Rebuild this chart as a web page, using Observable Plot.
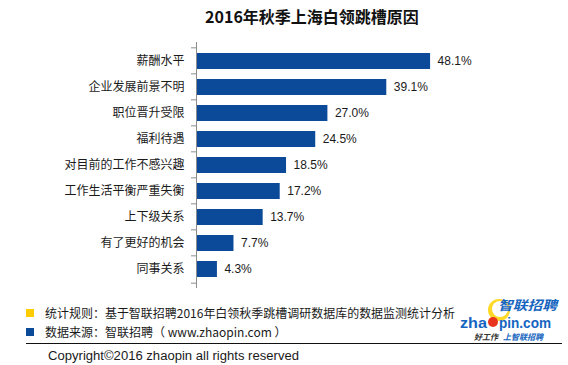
<!DOCTYPE html>
<html>
<head>
<meta charset="utf-8">
<script src="https://cdn.jsdelivr.net/npm/d3@7"></script>
<script src="https://cdn.jsdelivr.net/npm/@observablehq/plot@0.6"></script>
<style>
  html, body { margin: 0; padding: 0; background: #fff; }
  svg { display: block; }
</style>
</head>
<body>
<div id="chart"></div>
<script>
const title = "2016年秋季上海白领跳槽原因";
const categories = ["薪酬水平","企业发展前景不明","职位晋升受限","福利待遇","对目前的工作不感兴趣","工作生活平衡严重失衡","上下级关系","有了更好的机会","同事关系"];
const values = [48.1, 39.1, 27.0, 24.5, 18.5, 17.2, 13.7, 7.7, 4.3];
const footnote1 = "统计规则：基于智联招聘2016年白领秋季跳槽调研数据库的数据监测统计分析";
const footnote2 = "数据来源：智联招聘（ www.zhaopin.com ）";
const copyright = "Copyright©2016 zhaopin all rights reserved";

const data = categories.map((c, i) => ({cat: c, value: values[i]}));

const W = 568, H = 365, mt = 42, mb = 77;
const step = (H - mt - mb) / categories.length;
const cjk = "'Noto Sans CJK SC', 'Noto Sans', sans-serif";
const latin = "'Liberation Sans', Arial, sans-serif";
const axisColor = "#8c8c8c";

const chart = Plot.plot({
  width: W, height: H,
  marginTop: mt, marginBottom: mb, marginLeft: 196, marginRight: 80,
  style: {fontFamily: cjk, background: "#fff"},
  x: {domain: [0, 60], axis: null},
  y: {domain: categories, padding: 0.38, axis: null},
  marks: [
    Plot.barX(data, {x: "value", y: "cat", fill: "#0a4a98"}),
    Plot.text(data, {x: "value", y: "cat", text: d => d.value.toFixed(1) + "%", dx: 7, textAnchor: "start", fontSize: 12, fill: "#1a1a1a", fontFamily: latin}),
    Plot.ruleX([0], {stroke: axisColor}),
    Plot.axisY({tickSize: 5, tickFormat: () => "", dy: -step / 2, stroke: axisColor, label: null}),
    Plot.axisY({ticks: [categories[categories.length - 1]], tickSize: 5, tickFormat: () => "", dy: step / 2, stroke: axisColor, label: null}),
    Plot.axisY({tickSize: 0, tickPadding: 12, fontSize: 12, color: "#1a1a1a", label: null})
  ]
});

document.getElementById("chart").appendChild(chart);

const svg = d3.select(chart);
const overlay = svg.append("g").attr("text-anchor", "start");
// Title
overlay.append("text").text(title)
  .attr("x", 312).attr("y", 23).attr("text-anchor", "middle")
  .attr("font-family", cjk).attr("font-weight", "bold").attr("font-size", 16).attr("fill", "#111");

// Footer legend squares
overlay.append("rect").attr("x", 26).attr("y", 309).attr("width", 8).attr("height", 8).attr("fill", "#ffcc00");
overlay.append("rect").attr("x", 26).attr("y", 328).attr("width", 8).attr("height", 8).attr("fill", "#0a4a98");
overlay.append("text").text(footnote1).attr("x", 45).attr("y", 317.5).attr("text-anchor", "start")
  .attr("font-family", cjk).attr("font-size", 12).attr("fill", "#1a1a1a")
  .attr("textLength", 410).attr("lengthAdjust", "spacingAndGlyphs");
overlay.append("text").text(footnote2).attr("x", 45).attr("y", 336.5).attr("text-anchor", "start")
  .attr("font-family", cjk).attr("font-size", 12).attr("fill", "#1a1a1a");
overlay.append("line").attr("x1", 26).attr("x2", 562).attr("y1", 343.5).attr("y2", 343.5).attr("stroke", "#111").attr("stroke-width", 1);
overlay.append("text").text(copyright).attr("x", 48).attr("y", 359.5).attr("text-anchor", "start")
  .attr("font-family", latin).attr("font-size", 12.5).attr("fill", "#1a1a1a")
  .attr("textLength", 251).attr("lengthAdjust", "spacingAndGlyphs");

// Logo
const logo = overlay.append("g").attr("text-anchor", "start");
logo.append("circle").attr("cx", 499).attr("cy", 310).attr("r", 11).attr("fill", "#ffd200").attr("opacity", 0.85);
logo.append("circle").attr("cx", 500).attr("cy", 309).attr("r", 8).attr("fill", "#fff");
logo.append("text").text("智联招聘").attr("x", 498).attr("y", 310)
  .attr("font-family", cjk).attr("font-weight", "bold").attr("font-style", "italic").attr("font-size", 13)
  .attr("fill", "#1565c0").attr("textLength", 59).attr("lengthAdjust", "spacingAndGlyphs");
logo.append("text").text("zha").attr("x", 460).attr("y", 328)
  .attr("font-family", latin).attr("font-weight", "bold").attr("font-size", 15).attr("fill", "#1565c0")
  .attr("textLength", 27).attr("lengthAdjust", "spacingAndGlyphs");
logo.append("circle").attr("cx", 493).attr("cy", 322).attr("r", 5).attr("fill", "#e8341c");
logo.append("text").text("pin.com").attr("x", 499).attr("y", 328)
  .attr("font-family", latin).attr("font-weight", "bold").attr("font-size", 15).attr("fill", "#1565c0")
  .attr("textLength", 52).attr("lengthAdjust", "spacingAndGlyphs");
logo.append("text").text("好工作").attr("x", 474).attr("y", 340)
  .attr("font-family", cjk).attr("font-weight", "bold").attr("font-style", "italic").attr("font-size", 8).attr("fill", "#333");
logo.append("text").text("上智联招聘").attr("x", 503).attr("y", 340)
  .attr("font-family", cjk).attr("font-weight", "bold").attr("font-style", "italic").attr("font-size", 8).attr("fill", "#1565c0");
</script>
</body>
</html>
